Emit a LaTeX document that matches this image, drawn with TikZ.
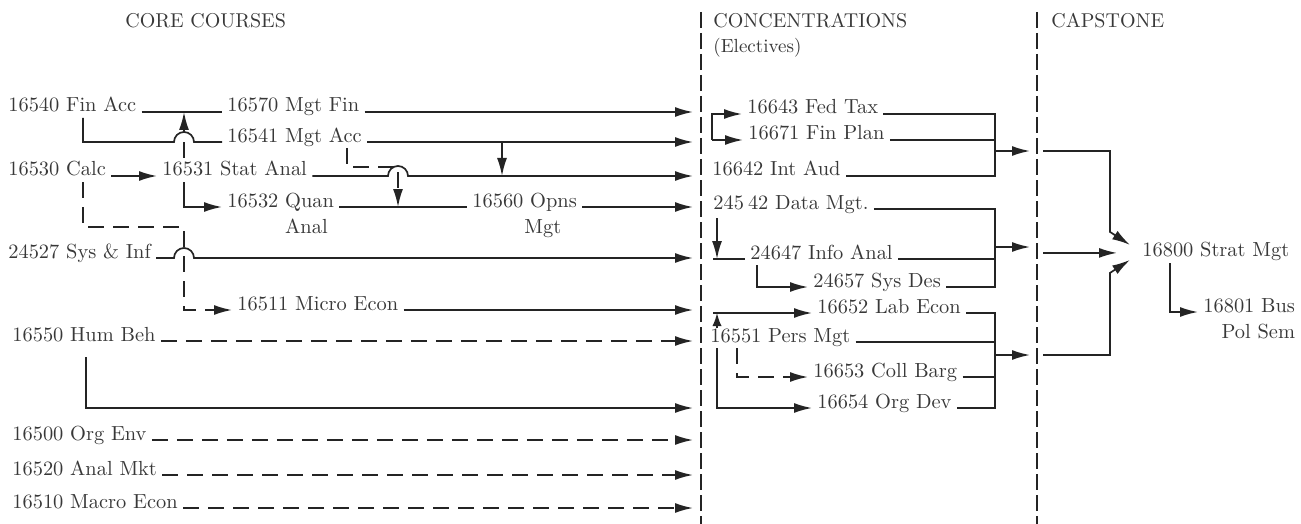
\documentclass[tikz,border=0pt]{standalone}
\usetikzlibrary{arrows.meta,calc}
\definecolor{ink}{gray}{0.22}
\definecolor{wirec}{gray}{0.14}
\begin{document}
\begin{tikzpicture}[x=0.5pt,y=-0.5pt,
  txt/.style={anchor=base west, inner xsep=2.5pt, inner ysep=0pt, font=\fontsize{10.2}{13}\selectfont, text=ink},
  head/.style={anchor=base west, inner sep=0pt, font=\fontsize{10}{12}\selectfont, text=ink},
  wire/.style={draw=wirec, line width=0.85pt},
  arr/.style={wire, -{Latex[length=9pt,width=5pt]}},
  dsh/.style={dash pattern=on 8pt off 4.5pt},
  sep/.style={draw=wirec, line width=1pt, dash pattern=on 8pt off 2.5pt}]

\useasboundingbox (0,0) rectangle (1301,524);

% guide coordinates
\coordinate (inL) at (693,0);
\coordinate (inR) at (1030,0);
\coordinate (sepLt) at (701,12);  \coordinate (sepLb) at (701,524);
\coordinate (sepRt) at (1037,12); \coordinate (sepRb) at (1037,524);
\coordinate (g83) at (83,0);
\coordinate (g86) at (86,0);
\coordinate (g174) at (174,0);
\coordinate (g184) at (184,0);
\coordinate (g347) at (347,0);
\coordinate (g388) at (388,0);
\coordinate (g398) at (398,0);
\coordinate (g502) at (502,0);
\coordinate (g712) at (712,0);
\coordinate (g713) at (713,0);
\coordinate (g717) at (717,0);
\coordinate (g737) at (737,0);
\coordinate (g757) at (757,0);
\coordinate (g995) at (995,0);
\coordinate (g1043) at (1043,0);
\coordinate (g1170) at (1170,0);
\coordinate (jfin) at (995,151);
\coordinate (jinfo) at (995,247);
\coordinate (jpers) at (995,355);

% headers
\node[head] (hcore) at (125,28) {CORE COURSES};
\node[head] (hconc) at (713,28) {CONCENTRATIONS};
\node[head, font=\fontsize{9.5}{11}\selectfont] (helec) at (713,53) {(Electives)};
\node[head] (hcap) at (1051,28) {CAPSTONE};

% core courses
\node[txt] (finacc) at (3,112) {16540 Fin Acc};
\node[txt] (mgtfin) at (222,112) {16570 Mgt Fin};
\node[txt] (mgtacc) at (222,142) {16541 Mgt Acc};
\node[txt] (calc) at (3,176) {16530 Calc};
\node[txt] (statanal) at (157,176) {16531 Stat Anal};
\node[txt] (quan) at (222,207) {\begin{tabular}[t]{@{}l@{}}16532 Quan\\\phantom{16532 }Anal\end{tabular}};
\node[txt] (opns) at (467,207) {\begin{tabular}[t]{@{}l@{}}16560 Opns\\\hspace*{26pt}Mgt\end{tabular}};
\node[txt] (sysinf) at (3,258) {24527 Sys \& Inf};
\node[txt] (micro) at (232,310) {16511 Micro Econ};
\node[txt] (humbeh) at (7,341) {16550 Hum Beh};
\node[txt] (orgenv) at (7,440) {16500 Org Env};
\node[txt] (analmkt) at (7,475) {16520 Anal Mkt};
\node[txt] (macro) at (7,508) {16510 Macro Econ};

% concentrations
\node[txt] (fedtax) at (742,114) {16643 Fed Tax};
\node[txt] (finplan) at (743,140) {16671 Fin Plan};
\node[txt] (intaud) at (707,176) {16642 Int Aud};
\node[txt] (datamgt) at (708,209) {245\kern2pt42 Data Mgt.};
\node[txt] (infoanal) at (745,259) {24647 Info Anal};
\node[txt] (sysdes) at (808,287) {24657 Sys Des};
\node[txt] (labecon) at (812,313) {16652 Lab Econ};
\node[txt] (persmgt) at (705,342) {16551 Pers Mgt};
\node[txt] (collbarg) at (808,377) {16653 Coll Barg};
\node[txt] (orgdev) at (812,408) {16654 Org Dev};

% capstone
\node[txt] (strat) at (1137,256) {16800 Strat Mgt};
\node[txt] (buspol) at (1198,312) {\begin{tabular}[t]{@{}r@{}}16801 Bus\\Pol Sem\end{tabular}};
\coordinate (jmid) at ($(strat.west)+(-20,2)$);

% separators
\draw[sep] (sepLt) -- (sepLb);
\draw[sep] (sepRt) -- (sepRb);

% core connectors
\draw[wire] (finacc.base east) -- (mgtfin.base west);
\draw[arr] (mgtfin.base east) -- (mgtfin.base -| inL);
\draw[wire] ([yshift=-3pt]finacc.base -| g83) |- (g174 |- mgtacc.base) arc[start angle=180,end angle=0,radius=5pt] -- (mgtacc.base west);
\draw[arr] (mgtacc.base east) -- (mgtacc.base -| inL);
\draw[arr, dsh] ([yshift=9pt]statanal.base -| g184) -- (g184 |- mgtfin.base);
\draw[arr] (calc.base east) -- (statanal.base west);
\draw[arr] (statanal.base east) -- (g388 |- statanal.base) arc[start angle=180,end angle=0,radius=5pt] -- (statanal.base -| inL);
\draw[arr] (mgtacc.base -| g502) -- (statanal.base -| g502);
\draw[arr, dsh] ([yshift=-3pt]mgtacc.base -| g347) -- ++(0,19) -| (quan.base -| g398);
\draw[arr] ([yshift=-3pt]statanal.base -| g184) |- (quan.base west);
\draw[wire] (quan.base east) -- (opns.base west);
\draw[arr] (opns.base east) -- (opns.base -| inL);
\draw[arr, dsh] ([yshift=-3pt]calc.base -| g83) -- ++(0,45) -| (micro.base -| g184) -- (micro.base west);
\draw[arr] (sysinf.base east) -- (g174 |- sysinf.base) arc[start angle=180,end angle=0,radius=5pt] -- (sysinf.base -| inL);
\draw[arr] (micro.base east) -- (micro.base -| inL);
\draw[arr, dsh] (humbeh.base east) -- (humbeh.base -| inL);
\draw[arr] ([yshift=-8pt]humbeh.base -| g86) |- (orgdev.base -| inL);
\draw[arr, dsh] (orgenv.base east) -- (orgenv.base -| inL);
\draw[arr, dsh] (analmkt.base east) -- (analmkt.base -| inL);
\draw[arr, dsh] (macro.base east) -- (macro.base -| inL);

% concentration connectors
\draw[arr] (g712 |- finplan.base) -- (finplan.base west);
\draw[arr] (g712 |- finplan.base) -- (g712 |- fedtax.base) -- (fedtax.base west);
\draw[wire] (fedtax.base east) -| (g995 |- intaud.base) -- (intaud.base east);
\draw[wire] (finplan.base east) -- (finplan.base -| g995);
\draw[arr] (jfin) -- (jfin -| inR);

\draw[wire] (datamgt.base east) -| (g995 |- sysdes.base) -- (sysdes.base east);
\draw[wire] (infoanal.base east) -- (infoanal.base -| g995);
\draw[arr] (jinfo) -- (jinfo -| inR);
\draw[arr] ([yshift=-4.5pt]datamgt.base -| g717) -- (g717 |- infoanal.base);
\draw[wire] (g713 |- infoanal.base) -- (infoanal.base west);
\draw[arr] ([yshift=-3pt]infoanal.base -| g757) |- (sysdes.base west);

\draw[wire] (labecon.base east) -| (g995 |- orgdev.base) -- (orgdev.base east);
\draw[wire] (persmgt.base east) -- (persmgt.base -| g995);
\draw[wire] (collbarg.base east) -- (collbarg.base -| g995);
\draw[arr] (jpers) -- (jpers -| inR);
\draw[wire, -{Latex[length=6.5pt,width=4.6pt]}] ([yshift=7pt]persmgt.base -| g717) -- (g717 |- labecon.base);
\draw[arr] (g713 |- labecon.base) -- (labecon.base west);
\draw[arr, dsh] ([yshift=-3pt]persmgt.base -| g737) |- (collbarg.base west);
\draw[arr] ([yshift=-3pt]persmgt.base -| g717) |- (orgdev.base west);

% capstone connectors
\draw[arr] (g1043 |- jfin) -| ($(strat.west)+(-27,-19)$) -- ($(strat.west)+(-7,-6)$);
\draw[arr] (g1043 |- jpers) -| ($(strat.west)+(-27,22)$) -- ($(strat.west)+(-7,9)$);
\draw[arr] (g1043 |- jmid) -- (jmid);
\draw[arr] ([yshift=-3.5pt]strat.base -| g1170) |- (buspol.base west);
\end{tikzpicture}
\end{document}
